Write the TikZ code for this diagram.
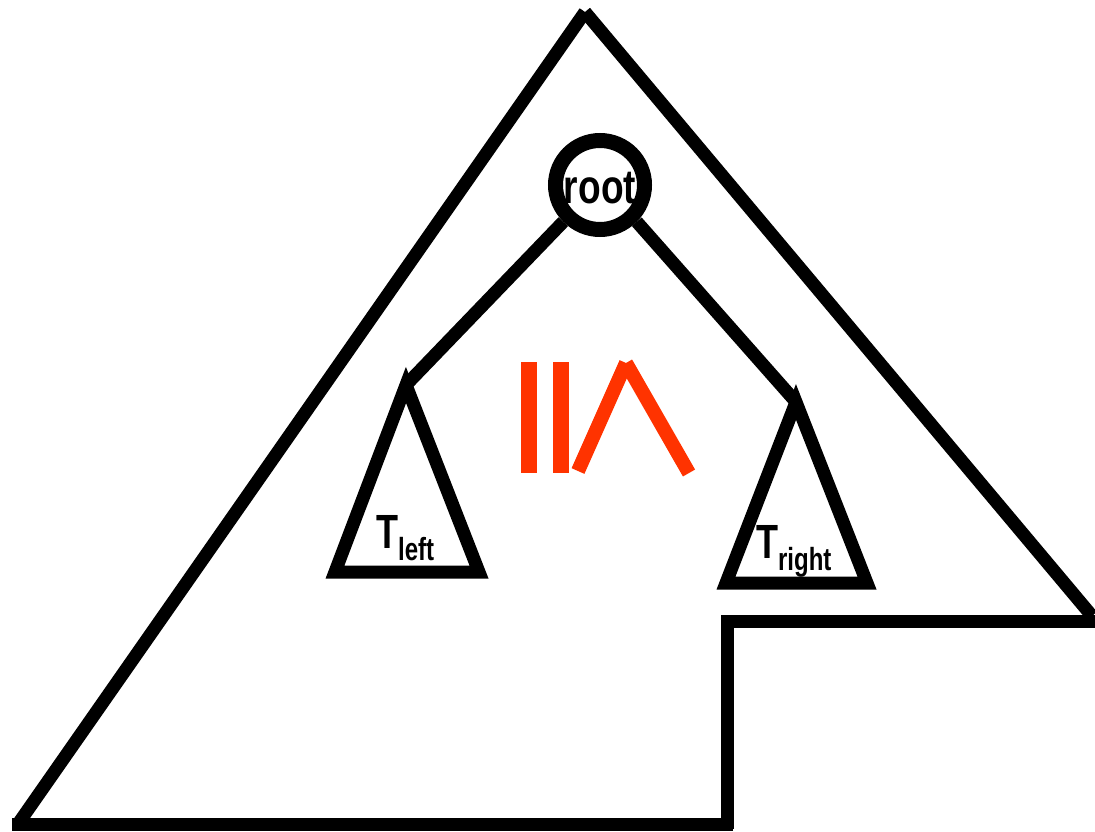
\documentclass[tikz,border=0pt]{standalone}
\usepackage{fontspec}
\setmainfont{Liberation Sans}
\begin{document}
\begin{tikzpicture}[x=1pt,y=-1pt,
  thick line/.style={line width=13pt,line cap=butt},
  redline/.style={line width=16pt,line cap=butt,draw=redge},
  lbl/.style={font=\bfseries\fontsize{48}{52}\selectfont,inner sep=0pt,xscale=0.75},
  sub/.style={}]
\definecolor{redge}{HTML}{FF3300}
\useasboundingbox (0,0) rectangle (1095,832);
% outer shape
\coordinate (top) at (585,12);
\coordinate (bl) at (18,824);
\coordinate (br) at (1092,616);
\draw[thick line] (top) -- (bl);
\draw[thick line] (top) -- (br);
\draw[thick line] (1095,621) -- (727,621);
\draw[thick line] (727,615) -- (727,829);
\draw[thick line] (12,824) -- (733,824);
% root
\node[circle,draw,line width=15pt,minimum size=89pt,inner sep=0pt] (root) at (600,185) {};
\node[lbl,anchor=base,xscale=1.03] (rootlbl) at (600,203) {root};
% left subtree
\coordinate (la) at (406,385);
\coordinate (lb1) at (335,572);
\coordinate (lb2) at (479,572);
\draw[thick line,line join=miter] (la) -- (lb1) -- (lb2) -- cycle;
\node[lbl,anchor=base west] (tl) at (376,548) {T\raisebox{-12pt}{\fontsize{32}{34}\selectfont left}};
% right subtree
\coordinate (ra) at (796,402);
\coordinate (rb1) at (726,583);
\coordinate (rb2) at (867,583);
\draw[thick line,line join=miter] (ra) -- (rb1) -- (rb2) -- cycle;
\node[lbl,anchor=base west] (tr) at (756,558) {T\raisebox{-12pt}{\fontsize{32}{34}\selectfont right}};
% edges
\draw[thick line] (root.225) -- (la);
\draw[thick line] (root.-45) -- (ra);
% red >= sign
\coordinate (r1a) at (529,362);
\coordinate (r1b) at (529,473);
\coordinate (r2a) at (561,362);
\coordinate (r2b) at (561,473);
\draw[redline] (r1a) -- (r1b);
\draw[redline] (r2a) -- (r2b);
\coordinate (va) at (578,471);
\coordinate (vt) at (626,363);
\coordinate (vb) at (689,473);
\draw[redline,line width=14pt] (va) -- (vt);
\draw[redline,line width=14pt] (vt) -- (vb);
\end{tikzpicture}
\end{document}
